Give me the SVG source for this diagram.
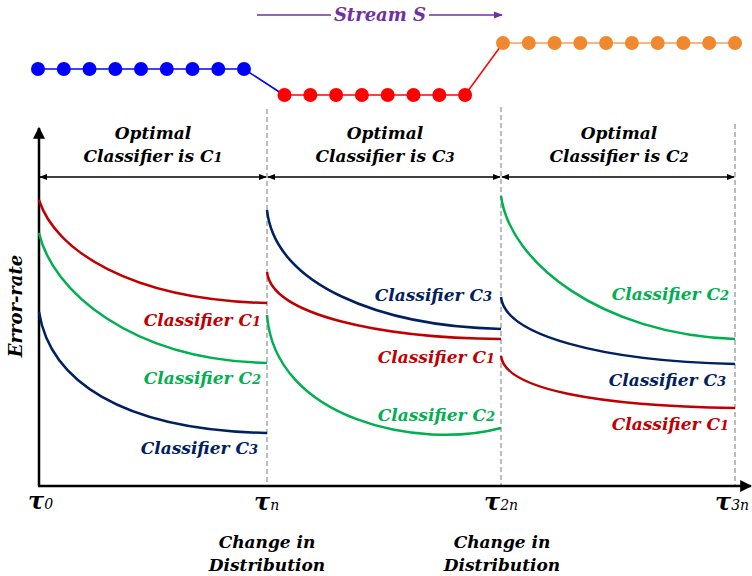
<svg xmlns="http://www.w3.org/2000/svg" width="752" height="576" viewBox="0 0 752 576">
<defs>
<marker id="ah" viewBox="0 0 10 10" refX="9" refY="5" markerWidth="8" markerHeight="8" markerUnits="userSpaceOnUse" orient="auto-start-reverse"><path d="M0,1 L10,5 L0,9 Z" fill="#000"/></marker>
<marker id="ahBig" viewBox="0 0 10 10" refX="9" refY="5" markerWidth="12" markerHeight="12" markerUnits="userSpaceOnUse" orient="auto"><path d="M0,0 L10,5 L0,10 Z" fill="#000"/></marker>
<marker id="ahP" viewBox="0 0 10 10" refX="9" refY="5" markerWidth="9" markerHeight="9" markerUnits="userSpaceOnUse" orient="auto"><path d="M0,1 L10,5 L0,9 Z" fill="#7030A0"/></marker>
</defs>
<style>
text{font-family:"DejaVu Serif","Liberation Serif",serif;font-weight:bold;font-style:italic;}
.hd{font-size:17px;fill:#000;text-anchor:middle;}
.lb{font-size:17px;}
.red{fill:#C00000;} .grn{fill:#00B050;} .nav{fill:#002060;}
.cr{fill:none;stroke:#C00000;stroke-width:2.5;}
.cg{fill:none;stroke:#00B050;stroke-width:2.5;}
.cn{fill:none;stroke:#002060;stroke-width:2.5;}
.dash{stroke:#999;stroke-width:1.3;stroke-dasharray:5,3;}
.tau{font-size:24px;fill:#000;}
.sub{font-size:13px;}
.ts{font-size:14px;font-weight:normal;}
.bd{fill:#0000FF;} .rd{fill:#FF0000;} .od{fill:#F0892D;}
</style>
<rect width="752" height="576" fill="#fff"/>

<g id="stream">
<line x1="257" y1="15" x2="331" y2="15" stroke="#7030A0" stroke-width="1.3"/>
<line x1="429" y1="15" x2="502" y2="15" stroke="#7030A0" stroke-width="1.3" marker-end="url(#ahP)"/>
<text x="380" y="21" text-anchor="middle" font-size="18" fill="#7030A0">Stream S</text>
<line x1="38" y1="69" x2="244" y2="69" stroke="#0000FF" stroke-width="1.5"/>
<line x1="244" y1="69" x2="284" y2="95" stroke="#0000FF" stroke-width="1.5"/>
<line x1="284" y1="95" x2="465" y2="95" stroke="#FF0000" stroke-width="1.5"/>
<line x1="465" y1="95" x2="503" y2="43" stroke="#FF0000" stroke-width="1.5"/>
<line x1="503" y1="43" x2="735" y2="43" stroke="#F0A060" stroke-width="1.5"/>
<g class="bd">
<circle cx="38" cy="69" r="7"/><circle cx="63.8" cy="69" r="7"/><circle cx="89.5" cy="69" r="7"/><circle cx="115.3" cy="69" r="7"/><circle cx="141" cy="69" r="7"/><circle cx="166.8" cy="69" r="7"/><circle cx="192.5" cy="69" r="7"/><circle cx="218.3" cy="69" r="7"/><circle cx="244" cy="69" r="7"/>
</g>
<g class="rd">
<circle cx="284.5" cy="95" r="7"/><circle cx="310.3" cy="95" r="7"/><circle cx="336.1" cy="95" r="7"/><circle cx="361.9" cy="95" r="7"/><circle cx="387.7" cy="95" r="7"/><circle cx="413.5" cy="95" r="7"/><circle cx="439.3" cy="95" r="7"/><circle cx="465.1" cy="95" r="7"/>
</g>
<g class="od">
<circle cx="503" cy="43" r="7"/><circle cx="528.8" cy="43" r="7"/><circle cx="554.6" cy="43" r="7"/><circle cx="580.3" cy="43" r="7"/><circle cx="606.1" cy="43" r="7"/><circle cx="631.9" cy="43" r="7"/><circle cx="657.7" cy="43" r="7"/><circle cx="683.4" cy="43" r="7"/><circle cx="709.2" cy="43" r="7"/><circle cx="735" cy="43" r="7"/>
</g>
</g>

<g id="grid">
<line class="dash" x1="267" y1="109" x2="267" y2="486"/>
<line class="dash" x1="501" y1="107" x2="501" y2="486"/>
<line class="dash" x1="735" y1="124" x2="735" y2="486"/>
</g>

<g id="axes">
<line x1="39" y1="486" x2="39" y2="128" stroke="#000" stroke-width="2.5" marker-end="url(#ahBig)"/>
<line x1="38" y1="486" x2="751" y2="486" stroke="#000" stroke-width="2.5" marker-end="url(#ahBig)"/>
<text transform="translate(22,306) rotate(-90)" text-anchor="middle" font-size="18" fill="#000">Error-rate</text>
</g>

<g id="connectors">
<line x1="40" y1="177" x2="266" y2="177" stroke="#000" stroke-width="1.5" marker-start="url(#ah)" marker-end="url(#ah)"/>
<line x1="268" y1="177" x2="500" y2="177" stroke="#000" stroke-width="1.5" marker-start="url(#ah)" marker-end="url(#ah)"/>
<line x1="502" y1="177" x2="734" y2="177" stroke="#000" stroke-width="1.5" marker-start="url(#ah)" marker-end="url(#ah)"/>
</g>

<g id="header1">
<text class="hd" x="153" y="139">Optimal</text>
<text class="hd" x="153" y="162">Classifier is C<tspan class="sub">1</tspan></text>
</g>
<g id="header2">
<text class="hd" x="385" y="139">Optimal</text>
<text class="hd" x="385" y="162">Classifier is C<tspan class="sub">3</tspan></text>
</g>
<g id="header3">
<text class="hd" x="619" y="139">Optimal</text>
<text class="hd" x="619" y="162">Classifier is C<tspan class="sub">2</tspan></text>
</g>

<g id="curves1">
<path class="cr" d="M39,200 C55,250 130,300 267,303"/>
<path class="cg" d="M39,233 C52,290 130,360 267,363"/>
<path class="cn" d="M39,312 C50,380 120,430 267,433"/>
</g>
<g id="curves2">
<path class="cn" d="M267,210 C275,285 380,326 501,329"/>
<path class="cr" d="M267,272 C272,315 380,338 501,339"/>
<path class="cg" d="M267,315 C275,420 420,450 501,428"/>
</g>
<g id="curves3">
<path class="cg" d="M501,196 C510,262 600,334 735,339"/>
<path class="cn" d="M501,297 C505,335 600,361 735,364"/>
<path class="cr" d="M501,356 C505,390 600,406 735,408"/>
</g>

<g id="labels1">
<text class="lb red" x="261" y="326" text-anchor="end">Classifier C<tspan class="sub">1</tspan></text>
<text class="lb grn" x="261" y="384" text-anchor="end">Classifier C<tspan class="sub">2</tspan></text>
<text class="lb nav" x="258" y="454" text-anchor="end">Classifier C<tspan class="sub">3</tspan></text>
</g>
<g id="labels2">
<text class="lb nav" x="492" y="301" text-anchor="end">Classifier C<tspan class="sub">3</tspan></text>
<text class="lb red" x="495" y="363" text-anchor="end">Classifier C<tspan class="sub">1</tspan></text>
<text class="lb grn" x="495" y="421" text-anchor="end">Classifier C<tspan class="sub">2</tspan></text>
</g>
<g id="labels3">
<text class="lb grn" x="729" y="300" text-anchor="end">Classifier C<tspan class="sub">2</tspan></text>
<text class="lb nav" x="726" y="386" text-anchor="end">Classifier C<tspan class="sub">3</tspan></text>
<text class="lb red" x="729" y="430" text-anchor="end">Classifier C<tspan class="sub">1</tspan></text>
</g>

<g id="ticks">
<text class="tau" x="28" y="509">τ<tspan class="ts">0</tspan></text>
<text class="tau" x="254" y="510">τ<tspan class="ts">n</tspan></text>
<text class="tau" x="484" y="510">τ<tspan class="ts">2n</tspan></text>
<text class="tau" x="715" y="510">τ<tspan class="ts" font-size="13">3n</tspan></text>
</g>

<g id="change1">
<text class="hd" x="267" y="548">Change in</text>
<text class="hd" x="267" y="571">Distribution</text>
</g>
<g id="change2">
<text class="hd" x="502" y="548">Change in</text>
<text class="hd" x="502" y="571">Distribution</text>
</g>
</svg>
